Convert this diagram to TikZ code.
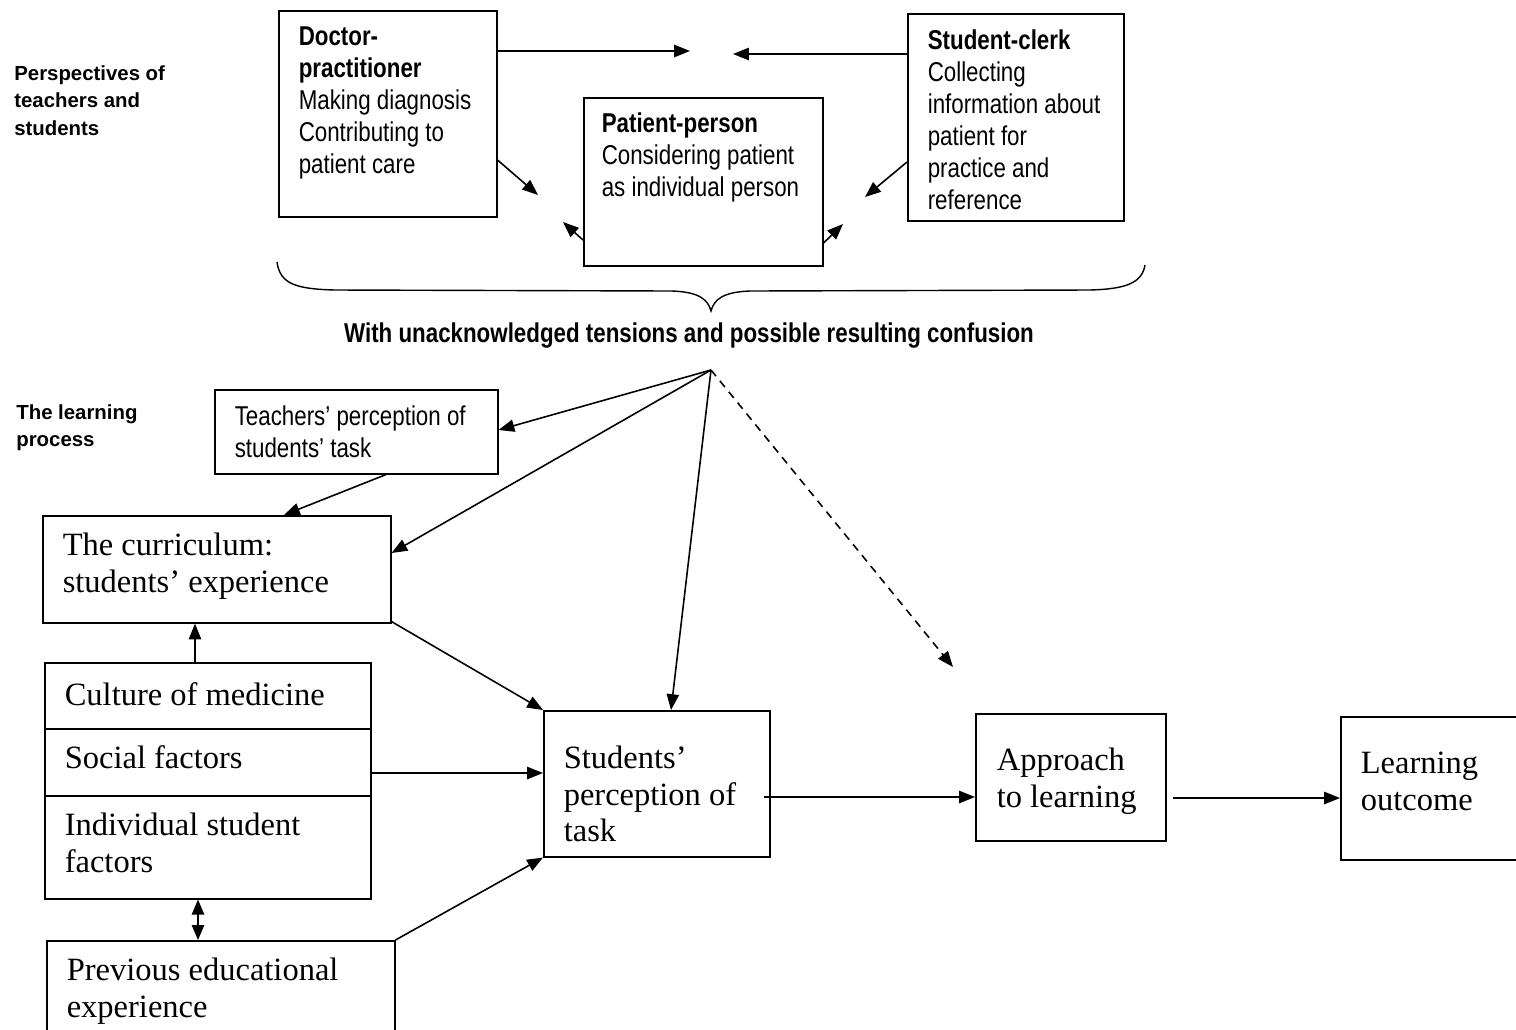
\documentclass[tikz,border=0pt]{standalone}
\usepackage{fontspec}
\setmainfont{Liberation Serif}
\newfontfamily\narrowsans[FakeStretch=0.82]{Liberation Sans}
\newfontfamily\plainsans{Liberation Sans}
\usetikzlibrary{arrows.meta,calc}

% one drawing unit = 0.02cm
\newlength\px
\setlength\px{0.569055pt}

% boxed text: width, height, left padding, first baseline from top, text
\newcommand\panel[5]{\parbox[t][#2\px][t]{#1\px}{\raggedright\leftskip=#3\px\noindent\rule{0pt}{#4\px}#5}}

\tikzset{
  card/.style={draw, line width=0.9pt, inner sep=0pt, anchor=north west,
    font={\narrowsans\fontsize{15.5}{18.2}\selectfont}},
  serifcard/.style={draw, line width=0.9pt, inner sep=0pt, anchor=north west,
    font={\fontsize{18.5}{20.8}\selectfont}},
  sidelabel/.style={inner sep=0pt, anchor=base west,
    font={\plainsans\bfseries\fontsize{11.6}{15.9}\selectfont}},
  heading/.style={inner sep=0pt, anchor=base,
    font={\narrowsans\bfseries\fontsize{15.5}{18.2}\selectfont}},
  tip/.style={Triangle[length=9pt,width=7pt]},
  conn/.style={line width=0.9pt, -{Triangle[length=9pt,width=7pt]}},
  twoway/.style={line width=0.9pt, {Triangle[length=8.5pt,width=7pt]}-{Triangle[length=8.5pt,width=7pt]}},
}

\begin{document}
\begin{tikzpicture}[x=0.02cm, y=-0.02cm]
\clip (0,0) rectangle (1516,1029);

% ---------- perspectives ----------
\node[sidelabel] (persp) at (14,80) {\parbox[t]{200\px}{Perspectives of\\teachers and\\students}};

\node[card] (doctor) at (278,10)
  {\panel{218}{206}{20}{35}{\textbf{Doctor-}\\\textbf{practitioner}\\Making diagnosis\\Contributing to\\patient care}};
\node[card] (patient) at (583,97)
  {\panel{239}{168}{18}{35}{\textbf{Patient-person}\\Considering patient\\as individual person}};
\node[card] (clerk) at (907,13)
  {\panel{216}{207}{20}{36}{\textbf{Student-clerk}\\Collecting\\information about\\patient for\\practice and\\reference}};

\coordinate (dtip) at (690,51);
\coordinate (ctip) at (733,54);
\coordinate (ddiag) at (538,195);
\coordinate (cdiag) at (865,197);
\coordinate (pleft) at (563,222);
\coordinate (pright) at (843,224);

\draw[conn] ($(doctor.north east)+(0,41)$) -- (dtip);
\draw[conn] ($(clerk.north west)+(0,41)$) -- (ctip);
\draw[conn] ($(doctor.north east)+(0,150)$) -- (ddiag);
\draw[conn] ($(clerk.north west)+(0,149)$) -- (cdiag);
\draw[conn] ($(patient.north west)+(0,143)$) -- (pleft);
\draw[conn] ($(patient.north east)+(0,146)$) -- (pright);

% curly brace under the three perspectives
\draw[line width=0.8pt] (277,262) .. controls (280,284) and (296,289) .. (335,290)
  -- (672,291) .. controls (700,292) and (708,300) .. (711,311)
  .. controls (714,300) and (722,292) .. (750,291)
  -- (1090,290) .. controls (1126,289) and (1142,283) .. (1145,265);

\node[heading] (tension) at (689,342) {With unacknowledged tensions and possible resulting confusion};

% ---------- learning process ----------
\node[sidelabel] (proc) at (16,419) {\parbox[t]{200\px}{The learning\\process}};

\node[card] (teachers) at (214,389)
  {\panel{283}{84}{20}{36}{Teachers’ perception of\\students’ task}};
\node[serifcard] (curric) at (42,515)
  {\panel{348}{107}{20}{40}{The curriculum:\\students’ experience}};
\node[serifcard] (culture) at (44,662)
  {\panel{326}{66}{20}{43}{Culture of medicine}};
\node[serifcard] (social) at (44,728)
  {\panel{326}{67}{20}{40}{Social factors}};
\node[serifcard] (individual) at (44,795)
  {\panel{326}{103}{20}{40}{Individual student\\factors}};
\node[serifcard] (prev) at (46,940)
  {\panel{348}{120}{20}{40}{Previous educational\\experience}};
\node[serifcard] (students) at (543,710)
  {\panel{226}{146}{20}{58}{Students’\\perception of\\task}};
\node[serifcard] (approach) at (975,713)
  {\panel{190}{127}{21}{57}{Approach\\to learning}};
\node[serifcard] (learning) at (1340,716)
  {\panel{200}{143}{20}{57}{Learning\\outcome}};

\coordinate (src) at (711,370);
\coordinate (dashend) at (953,667);

\draw[conn] (src) -- ($(teachers.north east)+(0,41)$);
\draw[conn] (src) -- ($(curric.north east)+(0,38)$);
\draw[conn] (src) -- ($(students.north west)+(128,0)$);
\draw[conn, dash pattern=on 4.5pt off 3.5pt] (src) -- (dashend);

\draw[conn] ($(teachers.south west)+(172,0)$) -- ($(curric.north west)+(242,0)$);
\draw[conn] ($(curric.south east)+(0,-2)$) -- (students.north west);

\coordinate (cfrom) at ($(culture.north west)+(151,0)$);
\draw[conn] (cfrom) -- (curric.south -| cfrom);

\coordinate (sfrom) at ($(social.north east)+(0,45)$);
\draw[conn] (sfrom) -- (students.west |- sfrom);

\coordinate (ifrom) at ($(individual.south west)+(154,0)$);
\draw[twoway] (ifrom) -- (prev.north -| ifrom);

\draw[conn] (prev.north east) -- (students.south west);

\coordinate (pfrom) at ($(students.north east)+(-7,87)$);
\draw[conn] (pfrom) -- (approach.west |- pfrom);

\coordinate (afrom) at ($(approach.north east)+(6,85)$);
\draw[conn] (afrom) -- (learning.west |- afrom);

\end{tikzpicture}
\end{document}
